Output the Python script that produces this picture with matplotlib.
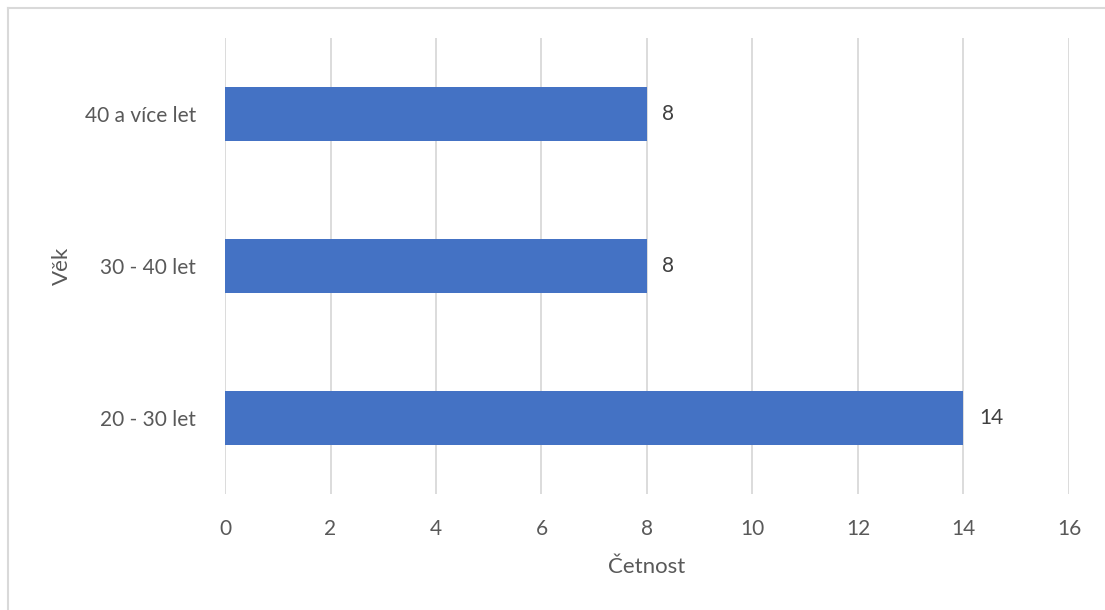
import matplotlib.pyplot as plt
from matplotlib.lines import Line2D

# věkové skupiny a jejich četnosti
kategorie = ['20 - 30 let', '30 - 40 let', '40 a více let']
cetnost = [14, 8, 8]
x_ticks = [0, 2, 4, 6, 8, 10, 12, 14, 16]

barva = '#4472C4'
text_barva = '#595959'
mrizka = '#D9D9D9'

plt.rcParams['font.family'] = ['Lato', 'DejaVu Sans']

fig = plt.figure(figsize=(11.05, 6.10), dpi=100)
ax = fig.add_axes([225 / 1105, 1 - 494 / 610, (1069 - 225) / 1105, (494 - 38) / 610])

pozice = range(len(kategorie))
ax.barh(pozice, cetnost, height=0.355, color=barva, zorder=3)
for p, v in zip(pozice, cetnost):
    ax.annotate(str(v), (v, p), xytext=(11, 0), textcoords='offset points',
                va='center', ha='left', fontsize=15, color='#404040')

ax.set_xlim(0, 16)
ax.set_ylim(-0.5, len(kategorie) - 0.5)
ax.set_xticks(x_ticks)
ax.set_yticks(list(pozice))
ax.set_yticklabels(kategorie)
ax.grid(axis='x', color=mrizka, linewidth=1.3, zorder=0)
ax.tick_params(length=0, labelsize=15, labelcolor=text_barva)
ax.tick_params(axis='x', pad=18)
ax.tick_params(axis='y', pad=21)
for s in ax.spines.values():
    s.set_visible(False)

ax.set_xlabel('Četnost', fontsize=16, color=text_barva, labelpad=13)
ax.set_ylabel('Věk', fontsize=16, color=text_barva, labelpad=9)

# rámeček grafu (levý a horní okraj)
fig.add_artist(Line2D([7.5 / 1105, 7.5 / 1105], [0, 1 - 8 / 610], color=mrizka, lw=1.5))
fig.add_artist(Line2D([7.5 / 1105, 1], [1 - 8 / 610, 1 - 8 / 610], color=mrizka, lw=1.5))

fig.savefig('out.png', dpi=100)
